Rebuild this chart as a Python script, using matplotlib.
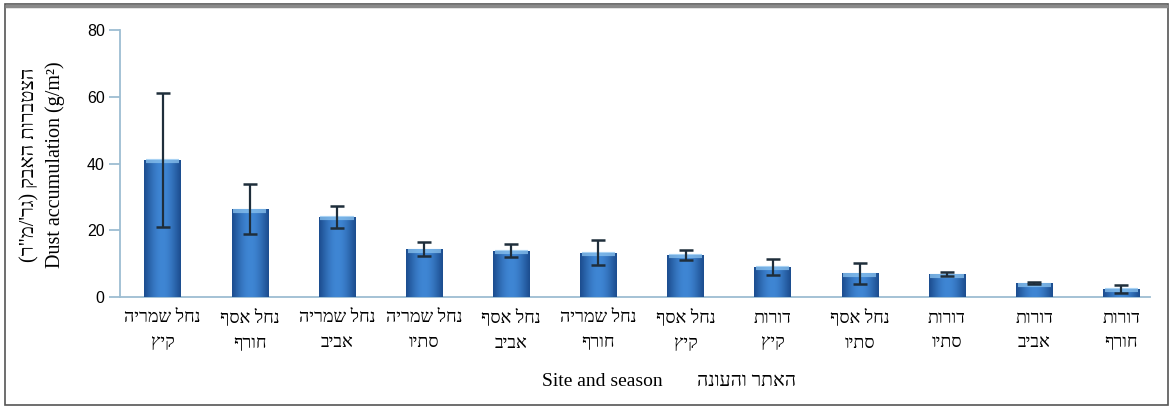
import numpy as np
import matplotlib
matplotlib.use('Agg')
from matplotlib import pyplot as plt
from matplotlib.patches import Rectangle

plt.rcParams['font.family'] = ['Liberation Serif', 'DejaVu Sans']

# data
sites = ['נחל שמריה', 'נחל אסף', 'נחל שמריה', 'נחל שמריה', 'נחל אסף', 'נחל שמריה',
         'נחל אסף', 'דורות', 'נחל אסף', 'דורות', 'דורות', 'דורות']
seasons = ['קיץ', 'חורף', 'אביב', 'סתיו', 'אביב', 'חורף',
           'קיץ', 'קיץ', 'סתיו', 'סתיו', 'אביב', 'חורף']
dust = [41.0, 26.3, 24.0, 14.3, 13.9, 13.3, 12.6, 9.0, 7.1, 6.8, 4.1, 2.5]
dust_err = [20.0, 7.5, 3.4, 2.1, 2.0, 3.8, 1.6, 2.3, 3.2, 0.6, 0.3, 1.2]
yticks = [0, 20, 40, 60, 80]

ylabel_he = 'הצטברות האבק (גר\'/מ"ר)'
ylabel_en = 'Dust accumulation (g/m²)'
xlabel_en = 'Site and season'
xlabel_he = 'האתר והעונה'


def rtl(s):
    # matplotlib has no bidi support, so lay the hebrew out visually
    swap = {'(': ')', ')': '('}
    return ''.join(swap.get(c, c) for c in s[::-1])


fig = plt.figure(figsize=(11.73, 4.09), dpi=100)
ax = fig.add_axes([120 / 1173, 1 - 297 / 409, 1030 / 1173, 267 / 409])

x = np.arange(len(dust))
bars = ax.bar(x, dust, width=0.42, color='#2f6cb5', edgecolor='none', zorder=2)

# cylinder-like shading on each bar
grad = np.cos(np.linspace(-1.2, 1.2, 64)) ** 1.5
grad = grad[np.newaxis, :]
cmap = matplotlib.colors.LinearSegmentedColormap.from_list('bar', ['#1c4d8f', '#3f86d4'])
for b in bars:
    bx, by, bw, bh = b.get_x(), b.get_y(), b.get_width(), b.get_height()
    im = ax.imshow(grad, extent=[bx, bx + bw, by, by + bh], aspect='auto',
                   cmap=cmap, zorder=3, interpolation='bicubic')
    im.set_clip_path(b)
    ax.plot([bx + 0.02, bx + bw - 0.02], [by + bh - 0.4, by + bh - 0.4],
            color='#8cc4f0', lw=3, alpha=0.75, zorder=4, solid_capstyle='butt')

ax.errorbar(x, dust, yerr=dust_err, fmt='none', ecolor='#1f2e3b', elinewidth=1.6,
            capsize=5, capthick=1.8, zorder=5)

ax.set_xlim(-0.49, 11.33)
ax.set_ylim(0, 80)
ax.set_yticks(yticks)
ax.set_yticklabels([str(v) for v in yticks], family='Liberation Sans', fontsize=11.5)
ax.set_xticks(x)
ax.set_xticklabels([rtl(s) + '\n' + rtl(t) for s, t in zip(sites, seasons)],
                   fontsize=13, linespacing=1.6)

for side in ['top', 'right']:
    ax.spines[side].set_visible(False)
for side in ['left', 'bottom']:
    ax.spines[side].set_color('#9dbdd2')
    ax.spines[side].set_linewidth(1.3)
ax.tick_params(axis='y', length=8, color='#9dbdd2', width=1.3, pad=3)
ax.tick_params(axis='x', length=0, pad=9)

ymid = 1 - 165 / 409
fig.text(30 / 1173, ymid, rtl(ylabel_he), rotation=90, ha='center', va='center', fontsize=14.5)
fig.text(55 / 1173, ymid, ylabel_en, rotation=90, ha='center', va='center', fontsize=14.5)

fig.text(663 / 1173, 1 - 382 / 409, xlabel_en, ha='right', va='center', fontsize=14)
fig.text(697 / 1173, 1 - 382 / 409, rtl(xlabel_he), ha='left', va='center', fontsize=14)

# frame around the whole figure
fig.patches.append(Rectangle((5 / 1173, 4 / 409), 1163 / 1173, 401 / 409,
                             transform=fig.transFigure, fill=False,
                             edgecolor='#555555', lw=1.2))
fig.patches.append(Rectangle((5 / 1173, 1 - 6 / 409), 1163 / 1173, 0,
                             transform=fig.transFigure, fill=False,
                             edgecolor='#8a8a8a', lw=2.5))

fig.savefig('out.png', dpi=100)
